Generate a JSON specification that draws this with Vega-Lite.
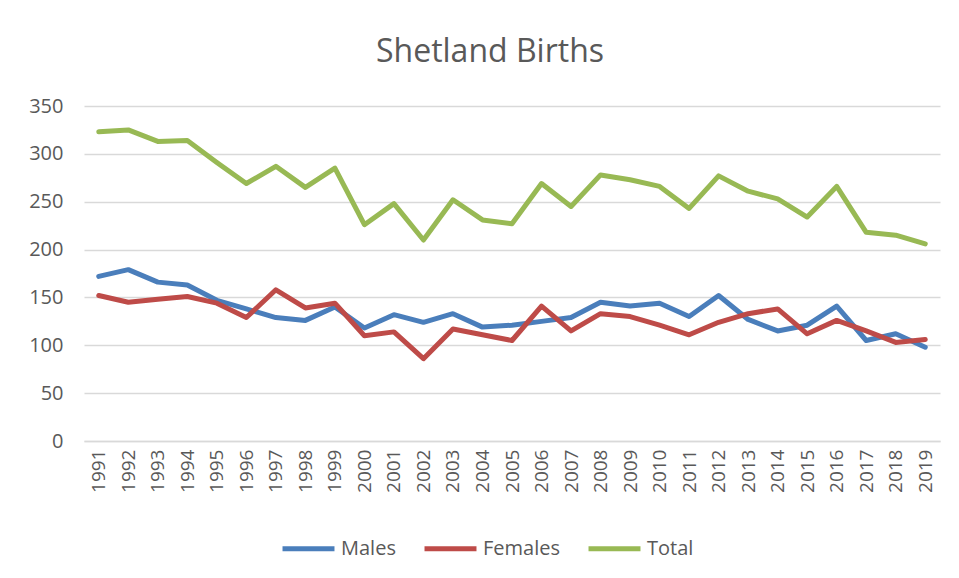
{
  "$schema": "https://vega.github.io/schema/vega-lite/v6.json",
  "width": 856,
  "height": 335,
  "autosize": {"type": "none"},
  "padding": {"left": 84, "top": 106, "right": 19, "bottom": 137},
  "background": "white",
  "title": {
    "text": "Shetland Births",
    "font": "Open Sans",
    "fontSize": 32,
    "fontWeight": "normal",
    "color": "#595959",
    "anchor": "middle",
    "dx": -22,
    "offset": 27
  },
  "config": {
    "view": {"stroke": null},
    "font": "Open Sans"
  },
  "datasets": {
    "births": [
      {"year": "1991", "series": "Males", "value": 172},
      {"year": "1992", "series": "Males", "value": 179},
      {"year": "1993", "series": "Males", "value": 166},
      {"year": "1994", "series": "Males", "value": 163},
      {"year": "1995", "series": "Males", "value": 147},
      {"year": "1996", "series": "Males", "value": 138},
      {"year": "1997", "series": "Males", "value": 129},
      {"year": "1998", "series": "Males", "value": 126},
      {"year": "1999", "series": "Males", "value": 140},
      {"year": "2000", "series": "Males", "value": 118},
      {"year": "2001", "series": "Males", "value": 132},
      {"year": "2002", "series": "Males", "value": 124},
      {"year": "2003", "series": "Males", "value": 133},
      {"year": "2004", "series": "Males", "value": 119},
      {"year": "2005", "series": "Males", "value": 121},
      {"year": "2006", "series": "Males", "value": 125},
      {"year": "2007", "series": "Males", "value": 129},
      {"year": "2008", "series": "Males", "value": 145},
      {"year": "2009", "series": "Males", "value": 141},
      {"year": "2010", "series": "Males", "value": 144},
      {"year": "2011", "series": "Males", "value": 130},
      {"year": "2012", "series": "Males", "value": 152},
      {"year": "2013", "series": "Males", "value": 127},
      {"year": "2014", "series": "Males", "value": 115},
      {"year": "2015", "series": "Males", "value": 121},
      {"year": "2016", "series": "Males", "value": 141},
      {"year": "2017", "series": "Males", "value": 105},
      {"year": "2018", "series": "Males", "value": 112},
      {"year": "2019", "series": "Males", "value": 98},
      {"year": "1991", "series": "Females", "value": 152},
      {"year": "1992", "series": "Females", "value": 145},
      {"year": "1993", "series": "Females", "value": 148},
      {"year": "1994", "series": "Females", "value": 151},
      {"year": "1995", "series": "Females", "value": 144},
      {"year": "1996", "series": "Females", "value": 129},
      {"year": "1997", "series": "Females", "value": 158},
      {"year": "1998", "series": "Females", "value": 139},
      {"year": "1999", "series": "Females", "value": 144},
      {"year": "2000", "series": "Females", "value": 110},
      {"year": "2001", "series": "Females", "value": 114},
      {"year": "2002", "series": "Females", "value": 86},
      {"year": "2003", "series": "Females", "value": 117},
      {"year": "2004", "series": "Females", "value": 111},
      {"year": "2005", "series": "Females", "value": 105},
      {"year": "2006", "series": "Females", "value": 141},
      {"year": "2007", "series": "Females", "value": 115},
      {"year": "2008", "series": "Females", "value": 133},
      {"year": "2009", "series": "Females", "value": 130},
      {"year": "2010", "series": "Females", "value": 121},
      {"year": "2011", "series": "Females", "value": 111},
      {"year": "2012", "series": "Females", "value": 124},
      {"year": "2013", "series": "Females", "value": 133},
      {"year": "2014", "series": "Females", "value": 138},
      {"year": "2015", "series": "Females", "value": 112},
      {"year": "2016", "series": "Females", "value": 126},
      {"year": "2017", "series": "Females", "value": 115},
      {"year": "2018", "series": "Females", "value": 103},
      {"year": "2019", "series": "Females", "value": 106},
      {"year": "1991", "series": "Total", "value": 323},
      {"year": "1992", "series": "Total", "value": 325},
      {"year": "1993", "series": "Total", "value": 313},
      {"year": "1994", "series": "Total", "value": 314},
      {"year": "1995", "series": "Total", "value": 291},
      {"year": "1996", "series": "Total", "value": 269},
      {"year": "1997", "series": "Total", "value": 287},
      {"year": "1998", "series": "Total", "value": 265},
      {"year": "1999", "series": "Total", "value": 285},
      {"year": "2000", "series": "Total", "value": 226},
      {"year": "2001", "series": "Total", "value": 248},
      {"year": "2002", "series": "Total", "value": 210},
      {"year": "2003", "series": "Total", "value": 252},
      {"year": "2004", "series": "Total", "value": 231},
      {"year": "2005", "series": "Total", "value": 227},
      {"year": "2006", "series": "Total", "value": 269},
      {"year": "2007", "series": "Total", "value": 245},
      {"year": "2008", "series": "Total", "value": 278},
      {"year": "2009", "series": "Total", "value": 273},
      {"year": "2010", "series": "Total", "value": 266},
      {"year": "2011", "series": "Total", "value": 243},
      {"year": "2012", "series": "Total", "value": 277},
      {"year": "2013", "series": "Total", "value": 261},
      {"year": "2014", "series": "Total", "value": 253},
      {"year": "2015", "series": "Total", "value": 234},
      {"year": "2016", "series": "Total", "value": 266},
      {"year": "2017", "series": "Total", "value": 218},
      {"year": "2018", "series": "Total", "value": 215},
      {"year": "2019", "series": "Total", "value": 206}
    ]
  },
  "data": {"name": "births"},
  "mark": {"type": "line", "strokeWidth": 5, "strokeJoin": "round", "strokeCap": "round"},
  "encoding": {
    "x": {
      "field": "year",
      "type": "ordinal",
      "scale": {"type": "point", "padding": 0.5},
      "axis": {
        "title": null,
        "labelAngle": -90,
        "labelFont": "Open Sans",
        "labelFontSize": 19,
        "labelColor": "#595959",
        "labelPadding": 8,
        "ticks": false,
        "domain": true,
        "domainColor": "#d9d9d9",
        "domainWidth": 1.5,
        "grid": false
      }
    },
    "y": {
      "field": "value",
      "type": "quantitative",
      "scale": {"domain": [0, 350], "nice": false},
      "axis": {
        "title": null,
        "values": [0, 50, 100, 150, 200, 250, 300, 350],
        "labelFont": "Open Sans",
        "labelFontSize": 20,
        "labelColor": "#595959",
        "labelPadding": 21,
        "ticks": false,
        "domain": false,
        "grid": true,
        "gridColor": "#d9d9d9",
        "gridWidth": 1.5
      }
    },
    "color": {
      "field": "series",
      "type": "nominal",
      "scale": {
        "domain": ["Males", "Females", "Total"],
        "range": ["#4a7ebb", "#be4b48", "#98b954"]
      },
      "legend": {
        "title": null,
        "orient": "none",
        "direction": "horizontal",
        "legendX": 196,
        "legendY": 414,
        "symbolType": "stroke",
        "symbolSize": 2700,
        "symbolStrokeWidth": 5,
        "labelFont": "Open Sans",
        "labelFontSize": 20,
        "labelColor": "#595959",
        "labelOffset": 4,
        "columnPadding": 18
      }
    }
  }
}
